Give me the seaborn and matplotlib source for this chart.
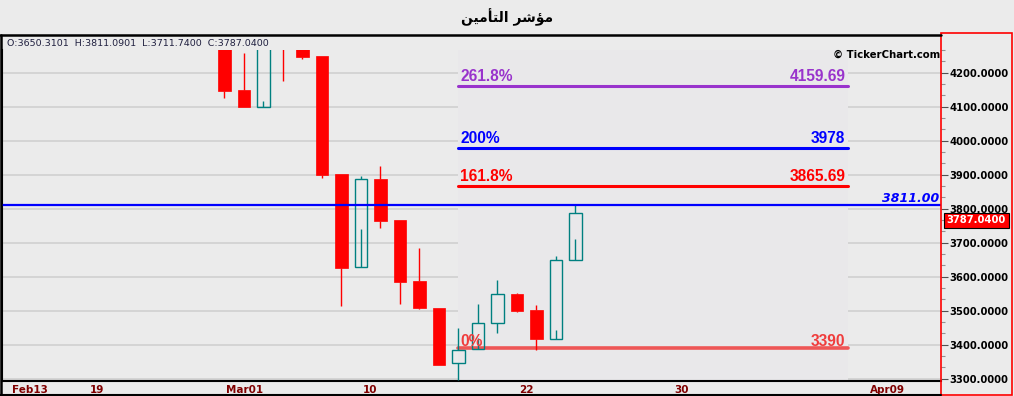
import matplotlib
matplotlib.use("Agg")
import matplotlib.pyplot as plt
from matplotlib.lines import Line2D
from matplotlib.patches import Rectangle
from matplotlib.transforms import ScaledTranslation
import seaborn as sns
import pandas as pd

# ---------------- data ----------------
title_text = "\uFEE6\uFEF4\uFEE3\uFE84\uFE98\uFEDF\uFE8D \uFEAE\uFEB7\uFE86\uFEE3"  # مؤشر التأمين (shaped, visual order)
header_text = "O:3650.3101  H:3811.0901  L:3711.7400  C:3787.0400"
copyright_text = "\u00a9 TickerChart.com"

opens  = [4300, 4149, 4100, 4300, 4290, 4249, 3902, 3628, 3887, 3767, 3587, 3508, 3345, 3387, 3463, 3549, 3502, 3418, 3650.3101]
highs  = [4310, 4259, 4300, 4310, 4300, 4249, 3902, 3896, 3926, 3767, 3684, 3508, 3448, 3520, 3590, 3553, 3517, 3660, 3811.0901]
lows   = [4127, 4100, 4117, 4176, 4240, 3891, 3515, 3740, 3744, 3521, 3506, 3341, 3295, 3419, 3435, 3496, 3384, 3442, 3711.7400]
closes = [4146, 4100, 4290, 4280, 4247, 3899, 3627, 3887, 3765, 3585, 3509, 3341, 3384, 3463, 3548, 3499, 3417, 3648, 3787.0400]

tick_pos = [-11, -7, 0, 7, 15, 23, 33]
tick_labels = ["Feb13", "19", "Mar01", "10", "22", "30", "Apr09"]

y_ticks = [3300, 3400, 3500, 3600, 3700, 3800, 3900, 4000, 4100, 4200]

fib_values = [3390, 3865.69, 3978, 4159.69]
fib_names = ["0%", "161.8%", "200%", "261.8%"]
fib_value_labels = ["3390", "3865.69", "3978", "4159.69"]
fib_colors = ["#F03C3C", "#FF0000", "#0000FF", "#9933CC"]
fib_start, fib_end = 12, 32

hline_value = 3811.00
hline_label = "3811.00"
last_close_label = "3787.0400"

# ---------------- layout helpers ----------------
W, H, DPI = 1014, 396, 100
BG = "#EBEBEB"

def fx(x):
    return x / W

def fy(y):
    return 1 - y / H

sns.set_theme(style="white", rc={"figure.facecolor": BG, "axes.facecolor": BG})
plt.rcParams["font.family"] = ["DejaVu Sans"]

fig = plt.figure(figsize=(W / DPI, H / DPI), dpi=DPI)
fig.patch.set_facecolor(BG)

ax = fig.add_axes([fx(2), fy(381), (941 - 2) / W, (381 - 50) / H])
ax.set_facecolor(BG)

slot_px = 19.5
x0_px = 224.3
ax.set_xlim((2 - x0_px) / slot_px, (941 - x0_px) / slot_px)
y_top = 4200 + (72.7 - 50) / 0.34
y_bot = 4200 - (381 - 72.7) / 0.34
ax.set_ylim(y_bot, y_top)

# gridlines
for v in y_ticks:
    ax.axhline(v, color="#D0D0D0", lw=1.2, zorder=0)

# subtle fib tool background
ax.add_patch(Rectangle((fib_start, y_bot), fib_end - fib_start, y_top - y_bot,
                       facecolor="#E9E8EA", edgecolor="none", zorder=0.5))

# candles
df = pd.DataFrame({"o": opens, "h": highs, "l": lows, "c": closes})
df["i"] = range(len(df))
bw = 0.64
for _, r in df.iterrows():
    up = r.c >= r.o
    col = "#008080" if up else "#FF0000"
    top, bot = max(r.o, r.c), min(r.o, r.c)
    ax.vlines(r.i, top, r.h, color=col, lw=1.0, zorder=4)
    ax.vlines(r.i, r.l, bot, color=col, lw=1.0, zorder=4)
    if up:
        ax.add_patch(Rectangle((r.i - bw / 2, bot), bw, top - bot, facecolor="none",
                               edgecolor=col, lw=1.0, zorder=4))
    else:
        ax.add_patch(Rectangle((r.i - bw / 2, bot), bw, max(top - bot, 1), facecolor=col,
                               edgecolor=col, lw=0.5, zorder=4))

# fib lines
px = 1 / DPI
for v, name, vl, col in zip(fib_values, fib_names, fib_value_labels, fib_colors):
    lw = 2.6 if name == "0%" else 2.2
    alpha = 0.85 if name == "0%" else 1.0
    sns.lineplot(x=[fib_start, fib_end], y=[v, v], ax=ax, color=col, lw=lw, alpha=alpha, zorder=3)
    off = -0.5 if name == "0%" else 2.5
    tr = ax.transData + ScaledTranslation(0, off * px, fig.dpi_scale_trans)
    ax.text(fib_start + 0.1, v, name, transform=tr, ha="left", va="bottom", color=col,
            fontsize=11.2, fontweight="bold", family=["Liberation Sans", "DejaVu Sans"], zorder=5)
    tr2 = ax.transData + ScaledTranslation(-3 * px, off * px, fig.dpi_scale_trans)
    ax.text(fib_end, v, vl, transform=tr2, ha="right", va="bottom", color=col,
            fontsize=11.2, fontweight="bold", family=["Liberation Sans", "DejaVu Sans"], zorder=5)

# horizontal blue price line
ax.axhline(hline_value, color="#0000FF", lw=1.6, zorder=6)
ax.text(0.998, hline_value, hline_label, transform=ax.get_yaxis_transform(),
        ha="right", va="bottom", color="#0000FF", fontsize=9, fontweight="bold",
        fontstyle="italic", zorder=6)

# axes styling
for s in ["top", "right"]:
    ax.spines[s].set_visible(False)
ax.spines["left"].set_color("black")
ax.spines["left"].set_linewidth(1.5)
ax.spines["bottom"].set_color("black")
ax.spines["bottom"].set_linewidth(1.5)

ax.set_xticks(tick_pos)
ax.set_xticklabels(tick_labels)
ax.tick_params(axis="x", direction="in", length=4, width=1, color="#A0A0A0",
               labelsize=7.5, labelcolor="#800000", pad=3)
for lab in ax.get_xticklabels():
    lab.set_horizontalalignment("left")
    lab.set_fontweight("bold")
    lab.set_transform(lab.get_transform() + ScaledTranslation(2 * px, 0, fig.dpi_scale_trans))

ax.yaxis.tick_right()
ax.set_yticks(y_ticks)
ax.set_yticklabels([f"{v:.4f}" for v in y_ticks])
minor = [3300 + k * 100 / 3 for k in range(-1, 30)]
ax.set_yticks([m for m in minor if y_bot <= m <= y_top and round(m) % 100 != 0], minor=True)
ax.tick_params(axis="y", which="major", direction="out", length=5, width=0.8,
               color="#505050", labelsize=7.2, pad=1.2, labelcolor="black")
ax.tick_params(axis="y", which="minor", direction="out", length=3.2, width=0.8, color="#909090")
for lab in ax.get_yticklabels():
    lab.set_fontweight("bold")

# last close box on price axis
fig.text(fx(946.5), fy(220.5), last_close_label, ha="left", va="center", color="white",
         fontsize=7.2, fontweight="bold",
         bbox=dict(boxstyle="square,pad=0.28", facecolor="#FF0000", edgecolor="black", lw=0.8))

# frame pieces
fig.add_artist(Line2D([fx(0), fx(941)], [fy(35), fy(35)], color="black", lw=1.8))
fig.add_artist(Line2D([fx(1), fx(1)], [fy(35), fy(395)], color="black", lw=1.8))
fig.add_artist(Line2D([fx(0), fx(941)], [fy(395), fy(395)], color="black", lw=1.5))
fig.add_artist(Rectangle((fx(940.5), fy(395)), (1012 - 940.5) / W, (395 - 33) / H,
                         transform=fig.transFigure, facecolor="none", edgecolor="#FF0000", lw=1.2))

# texts
fig.text(0.5, fy(17), title_text, ha="center", va="center", fontsize=10, fontweight="bold",
         color="black", family=["DejaVu Sans"])
fig.text(fx(7), fy(44), header_text, ha="left", va="center", fontsize=6.8, color="#1F1F3F")
fig.text(fx(940), fy(55), copyright_text, ha="right", va="center", fontsize=7.3,
         fontweight="bold", color="black")

fig.savefig("out.png", dpi=DPI, facecolor=BG)
